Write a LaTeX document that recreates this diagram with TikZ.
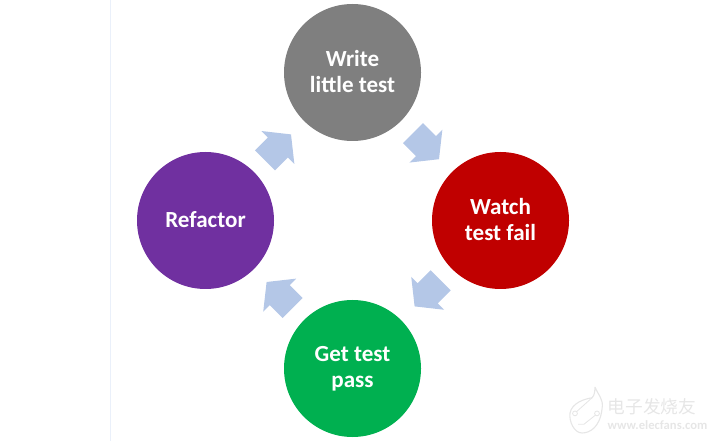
\documentclass[tikz,border=0pt]{standalone}
\usepackage{fontspec}
\setmainfont{Carlito}
\newfontfamily\cjkfont{Noto Sans CJK SC}
\usepackage{xcolor}
\usetikzlibrary{shapes.arrows}

\definecolor{stepgray}{HTML}{7F7F7F}
\definecolor{stepred}{HTML}{C00000}
\definecolor{stepgreen}{HTML}{00B050}
\definecolor{steppurple}{HTML}{7030A0}
\definecolor{arrowblue}{HTML}{B4C7E7}
\definecolor{rulecolor}{HTML}{EAF0FA}
\definecolor{markgray}{HTML}{E6E6E6}

\tikzset{
  stepcircle/.style={circle, minimum size=3.425cm, inner sep=0pt, align=center,
    text=white, font=\fontsize{16.4}{18.4}\selectfont\bfseries,
    execute at end node={\rule[-2.1pt]{0pt}{2.1pt}}},
  cyclearrow/.style={single arrow, fill=arrowblue, inner sep=0pt,
    text width=0pt, text height=0.3475cm, text depth=0.3475cm,
    minimum height=0.92cm, single arrow head extend=0.2275cm,
    single arrow tip angle=103}
}

\begin{document}
\begin{tikzpicture}
\useasboundingbox (0,0) rectangle (17.9,11.025);

% Define coordinates for easier positioning
\coordinate (ruletop) at (2.76,11.025);
\coordinate (rulebottom) at (2.76,0);

% Draw the thin vertical rule
\draw[rulecolor, line width=0.5pt] (ruletop) -- (rulebottom);

% Draw the four circles
\node[stepcircle, fill=stepgray] (write) at (8.8125,9.2125) {Write\\little test};
\node[stepcircle, fill=stepred] (watch) at (12.5125,5.5125) {Watch\\test fail};
\node[stepcircle, fill=stepgreen] (pass) at (8.8125,1.8125) {Get test\\pass};
\node[stepcircle, fill=steppurple] (refactor) at (5.1375,5.5125) {Refactor};

% Draw the block arrows between the circles
\node[cyclearrow, rotate=-45] (writewatch) at (10.55,7.47) {};
\node[cyclearrow, rotate=-135] (watchpass) at (10.79,3.79) {};
\node[cyclearrow, rotate=135] (passrefactor) at (7.09,3.55) {};
\node[cyclearrow, rotate=45] (refactorwrite) at (6.85,7.24) {};

% Draw the faint mark in the corner
\draw[markgray, line width=0.8pt] (14.875,1.35)
  .. controls (14.95,1.15) and (15.1,1.05) .. (15.05,0.8)
  .. controls (15.0,0.35) and (14.75,0.2) .. (14.55,0.2)
  .. controls (14.35,0.2) and (14.22,0.5) .. (14.25,0.7)
  .. controls (14.3,0.95) and (14.6,1.05) .. (14.8,1.08)
  .. controls (14.87,1.15) and (14.87,1.25) .. (14.875,1.35);
\draw[markgray, line width=0.6pt] (14.375,0.69) circle (0.06cm) (14.925,0.69) circle (0.06cm);
\draw[markgray, line width=0.6pt] (14.41,0.73) -- (14.8,1.08) (14.89,0.65) -- (14.6,0.42) -- (14.45,0.42);
\node[text=markgray, font=\cjkfont\fontsize{12.6}{13}\selectfont, inner sep=0pt] (markname) at (16.3,0.85) {电子发烧友};
\node[text=markgray, font=\fontsize{9}{10}\selectfont\bfseries, inner sep=0pt] (markurl) at (16.44,0.39) {www.elecfans.com};

\end{tikzpicture}
\end{document}
